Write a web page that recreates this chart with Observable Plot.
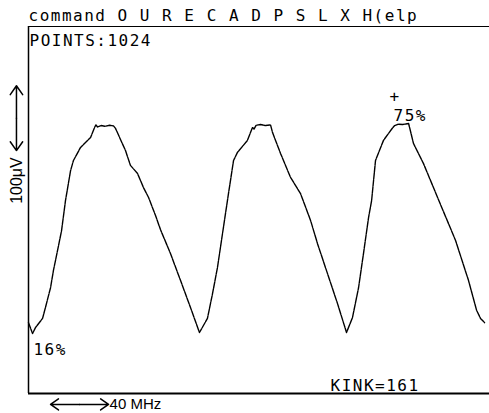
<!DOCTYPE html>
<html>
<head>
<meta charset="utf-8">
<script src="https://cdn.jsdelivr.net/npm/d3@7"></script>
<script src="https://cdn.jsdelivr.net/npm/@observablehq/plot@0.6"></script>
<style>
  html, body { margin: 0; padding: 0; background: #fff; }
  #chart svg { display: block; }
  #chart g[font-family="DejaVu Sans Mono"] text { letter-spacing: 1.5px; }
</style>
</head>
<body>
<div id="chart"></div>
<script>
// Trace: frequency (MHz) vs. relative signal (%)
const freqMHz = [0, 2.8, 4.8, 9.7, 11.7, 15.2, 17.2, 20.0, 22.8, 25.5, 29.0, 31.0, 35.9, 42.8, 45.5,
  46.5, 47.6, 50.0, 53.0, 56.0, 58.6, 60.0, 66.9, 70.3, 75.2, 79.3, 82.8, 87.6, 91.0, 97.9,
  104.8, 111.7, 117.9, 123.4, 126.9, 130.3, 133.8, 137.9, 141.4, 144.1, 151.0, 154.5, 155.5, 157.0, 160.0,
  163.5, 166.9, 168.3, 173.8, 180.7, 187.6, 194.5, 199.3, 206.2, 213.1, 219.3, 223.4, 227.6, 231.0, 234.5,
  236.6, 239.3, 244.8, 251.0, 252.5, 255.0, 258.0, 262.1, 265.5, 272.4, 282.1, 294.5, 303.4, 309.0, 311.7, 314.5];
const signalPct = [19.1, 16.0, 17.7, 20.3, 23.4, 29.0, 33.9, 39.5, 45.2, 53.7, 62.2, 65.1, 68.8, 71.6, 74.4,
  75.2, 74.6, 75.0, 74.8, 75.1, 74.9, 74.2, 67.9, 63.7, 61.4, 57.4, 54.6, 49.5, 45.5, 38.7,
  31.1, 23.4, 16.3, 20.3, 27.3, 34.7, 44.4, 55.7, 65.1, 67.4, 70.8, 74.5, 74.0, 75.1, 75.3,
  75.0, 75.2, 73.0, 67.1, 60.3, 55.7, 48.1, 41.5, 33.0, 24.5, 16.3, 20.5, 29.0, 38.7, 48.9,
  53.7, 65.1, 70.8, 74.3, 75.0, 75.4, 75.3, 75.6, 69.9, 64.2, 54.6, 42.4, 31.1, 22.6, 20.3, 19.1];

// Screen texts (monospace terminal font), anchored at baseline
const screenText = ["command O U R E C A D P S L X H(elp", "POINTS:1024", "16%", "+", "75%", "KINK=161"];
const screenX    = [0, 0.7, 3.4, 249.0, 251.7, 208.3];
const screenY    = [104.8, 97.6, 9.8, 81.8, 76.4, -0.4];

// Scale bars: 40 MHz horizontal, 100 µV vertical
const freqBarMHz = [15.2, 55.2];
const freqBarY = -4.1;
const freqBarLabel = "40 MHz";
const voltBarX = -8.3;
const voltBarPct = [67.9, 86.3];
const voltBarLabel = "100\u03bcV";
const voltLabelPct = 59.4;

const xDomain = [0, 317.9];
const yDomain = [-1.0, 103.1];

const trace = freqMHz.map((f, i) => ({f, s: signalPct[i]}));
const texts = screenText.map((t, i) => ({t, x: screenX[i], y: screenY[i]}));
const fMid = (freqBarMHz[0] + freqBarMHz[1]) / 2;
const vMid = (voltBarPct[0] + voltBarPct[1]) / 2;

const chart = Plot.plot({
  width: 489,
  height: 413,
  marginLeft: 28,
  marginRight: 0,
  marginTop: 26,
  marginBottom: 20,
  x: {domain: xDomain, axis: null},
  y: {domain: yDomain, axis: null},
  style: {background: "#fff", color: "#000"},
  marks: [
    Plot.ruleX([xDomain[0]], {stroke: "#000", strokeWidth: 1.5}),
    Plot.ruleY([yDomain[0]], {stroke: "#000", strokeWidth: 2}),
    Plot.ruleY([yDomain[1]], {stroke: "#000", strokeWidth: 1}),
    Plot.line(trace, {x: "f", y: "s", stroke: "#000", strokeWidth: 1.4, strokeDasharray: "6,1"}),
    Plot.text(texts, {x: "x", y: "y", text: "t", textAnchor: "start", lineAnchor: "bottom",
      fontFamily: "DejaVu Sans Mono", fontSize: 16, fill: "#000"}),
    // 40 MHz double arrow
    Plot.arrow([{x1: fMid, x2: freqBarMHz[0]}, {x1: fMid, x2: freqBarMHz[1]}],
      {x1: "x1", x2: "x2", y1: freqBarY, y2: freqBarY, stroke: "#000", strokeWidth: 1.5,
       headLength: 11, headAngle: 70}),
    Plot.text([freqBarLabel], {x: freqBarMHz[1], y: freqBarY, text: d => d, dx: 1,
      textAnchor: "start", lineAnchor: "middle", fontFamily: "Liberation Sans", fontSize: 15, fill: "#000"}),
    // 100 µV double arrow
    Plot.arrow([{y1: vMid, y2: voltBarPct[0]}, {y1: vMid, y2: voltBarPct[1]}],
      {x1: voltBarX, x2: voltBarX, y1: "y1", y2: "y2", stroke: "#000", strokeWidth: 1.5,
       headLength: 12, headAngle: 70}),
    Plot.text([voltBarLabel], {x: voltBarX, y: voltLabelPct, text: d => d, rotate: -90,
      textAnchor: "middle", lineAnchor: "middle", fontFamily: "Liberation Sans", fontSize: 16, fill: "#000"})
  ]
});
document.getElementById("chart").appendChild(chart);
</script>
</body>
</html>
